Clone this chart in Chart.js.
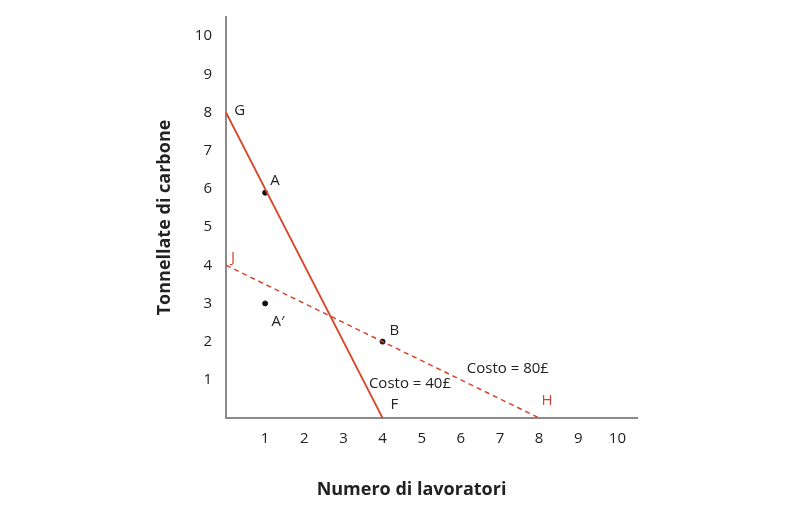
<!DOCTYPE html>
<html>
<head>
<meta charset="utf-8">
<script src="https://cdn.jsdelivr.net/npm/chart.js@4"></script>
<style>
  body { margin: 0; background: #fff; }
  #wrap { width: 810px; height: 508px; }
</style>
</head>
<body>
<div id="wrap"><canvas id="myChart"></canvas></div>
<script>
const ticksX = [1, 2, 3, 4, 5, 6, 7, 8, 9, 10];
const ticksY = [1, 2, 3, 4, 5, 6, 7, 8, 9, 10];

// isocost lines
const costo40 = [{ x: 0, y: 8 }, { x: 4, y: 0 }];
const costo80 = [{ x: 0, y: 4 }, { x: 8, y: 0 }];
const punti = [{ x: 1, y: 5.9 }, { x: 1, y: 3 }, { x: 4, y: 2 }];

// labels: text, x, y, colour
const etichette = [
  ["G", 0.35, 8.05, "#222"],
  ["A", 1.25, 6.2, "#222"],
  ["J", 0.18, 4.2, "#d9452b"],
  ["A\u2032", 1.33, 2.53, "#222"],
  ["B", 4.3, 2.28, "#222"],
  ["F", 4.3, 0.35, "#222"],
  ["H", 8.2, 0.45, "#d9452b"],
  ["Costo = 40\u00a3", 4.7, 0.9, "#222"],
  ["Costo = 80\u00a3", 7.2, 1.3, "#222"],
];

const labelPlugin = {
  id: "labels",
  afterDraw(chart) {
    const c = chart.ctx, sx = chart.scales.x, sy = chart.scales.y;
    c.save();
    c.textAlign = "center";
    c.textBaseline = "middle";
    c.font = "15px 'Open Sans', sans-serif";
    etichette.forEach(([t, x, y, col]) => {
      c.fillStyle = col;
      c.fillText(t, sx.getPixelForValue(x), sy.getPixelForValue(y));
    });
    c.fillStyle = "#222";
    c.font = "bold 18px 'Open Sans', sans-serif";
    c.fillText("Numero di lavoratori", (sx.left + sx.right) / 2 - 20, 490);
    c.translate(165, (sy.top + sy.bottom) / 2);
    c.rotate(-Math.PI / 2);
    c.fillText("Tonnellate di carbone", 0, 0);
    c.restore();
  },
};

const axisCol = "#8a8a8a";
new Chart(document.getElementById("myChart"), {
  type: "scatter",
  data: {
    datasets: [
      { data: costo40, showLine: true, borderColor: "#d9452b", borderWidth: 1.8, pointRadius: 0 },
      { data: costo80, showLine: true, borderColor: "#d9452b", borderWidth: 1.5, borderDash: [5, 4], pointRadius: 0 },
      { data: punti, backgroundColor: "#111", borderColor: "#111", pointRadius: 2.5 },
    ],
  },
  options: {
    responsive: true,
    maintainAspectRatio: false,
    animation: false,
    layout: { padding: { top: -10, right: 173, left: 0, bottom: 0 } },
    plugins: { legend: { display: false }, tooltip: { enabled: false } },
    scales: {
      x: {
        type: "linear", min: 0, max: 10.5,
        afterBuildTicks: (s) => { s.ticks = ticksX.map((v) => ({ value: v })); },
        afterFit: (s) => { s.height = 90; },
        grid: { display: false, drawTicks: true, tickLength: 6, tickColor: axisCol },
        border: { color: axisCol, width: 2 },
        ticks: { color: "#222", font: { size: 15, family: "'Open Sans', sans-serif" }, padding: 6 },
      },
      y: {
        type: "linear", min: 0, max: 10.5,
        afterBuildTicks: (s) => { s.ticks = ticksY.map((v) => ({ value: v })); },
        afterFit: (s) => { s.width = 226; },
        grid: { display: false, drawTicks: true, tickLength: 6, tickColor: axisCol },
        border: { color: axisCol, width: 2 },
        ticks: { color: "#222", font: { size: 15, family: "'Open Sans', sans-serif" }, padding: 8 },
      },
    },
  },
  plugins: [labelPlugin],
});
</script>
</body>
</html>
